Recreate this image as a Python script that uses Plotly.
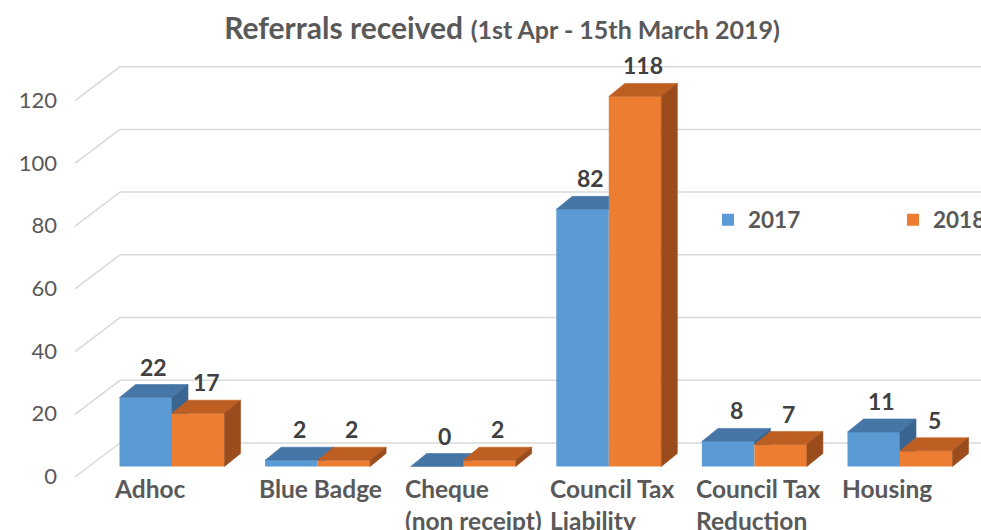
import plotly.graph_objects as go

# ---------------- data ----------------
categories = ["Adhoc", "Blue Badge", "Cheque<br>(non receipt)", "Council Tax<br>Liability",
              "Council Tax<br>Reduction", "Housing"]
series_names = ["2017", "2018"]
values_2017 = [22, 2, 0, 82, 8, 11]
values_2018 = [17, 2, 2, 118, 7, 5]
y_ticks = [0, 20, 40, 60, 80, 100, 120]

# ---------------- geometry / style ----------------
W_PX, H_PX = 981, 530
X_DOM_LEFT_PX = 58
CAT_STEP_PX = 145.6
CAT0_PX = 172.0
Y_UNIT_PX = 3.136
Y0_PX = 466.5
BAR_W = 52.5 / CAT_STEP_PX
DDX = 16 / CAT_STEP_PX
DDY = 13 / Y_UNIT_PX
LABEL_PLANE_DY = 10.5 / Y_UNIT_PX
BACK_DY = 23.5 / Y_UNIT_PX
DIAG_X0 = (75 - CAT0_PX) / CAT_STEP_PX
DIAG_X1 = (120 - CAT0_PX) / CAT_STEP_PX

x_range = [(X_DOM_LEFT_PX - CAT0_PX) / CAT_STEP_PX, (W_PX - CAT0_PX) / CAT_STEP_PX]
y_range = [-(H_PX - Y0_PX) / Y_UNIT_PX, Y0_PX / Y_UNIT_PX]

BLUE, BLUE_TOP, BLUE_SIDE = "#5B9BD5", "#4676A6", "#3A6591"
ORANGE, ORANGE_TOP, ORANGE_SIDE = "#ED7D31", "#BD5E22", "#9A4C1C"
FONT = "Lato"
TXT = "#595959"
VAL = "#404040"

idx = list(range(len(categories)))


def clip(poly, f):
    out = []
    n = len(poly)
    for k in range(n):
        a, b = poly[k], poly[(k + 1) % n]
        fa, fb = f(a), f(b)
        if fa >= 0:
            out.append(a)
        if (fa >= 0) != (fb >= 0):
            t = fa / (fa - fb)
            out.append((a[0] + t * (b[0] - a[0]), a[1] + t * (b[1] - a[1])))
    return out


def top_poly(x0, x1, v):
    return [(x0, v), (x1, v), (x1 + DDX, v + DDY), (x0 + DDX, v + DDY)]


def side_poly(x1, v):
    return [(x1, 0), (x1 + DDX, DDY), (x1 + DDX, v + DDY), (x1, v)]


def add_polys(polys, color):
    xs, ys = [], []
    for p in polys:
        if len(p) < 3:
            continue
        xs += [pt[0] for pt in p] + [p[0][0], None]
        ys += [pt[1] for pt in p] + [p[0][1], None]
    return go.Scatter(x=xs, y=ys, mode="lines", fill="toself", fillcolor=color,
                      line=dict(color=color, width=0.6), hoverinfo="skip",
                      showlegend=False)


fig = go.Figure()

fig.add_trace(go.Bar(x=idx, y=values_2017, name=series_names[0], offset=-BAR_W, width=BAR_W,
                     marker=dict(color=BLUE, line=dict(width=0)), hoverinfo="skip"))
fig.add_trace(go.Bar(x=idx, y=values_2018, name=series_names[1], offset=0, width=BAR_W,
                     marker=dict(color=ORANGE, line=dict(width=0)), hoverinfo="skip"))

blue_tops, blue_sides, or_tops, or_sides = [], [], [], []
for i, vb, vo in zip(idx, values_2017, values_2018):
    x0, x1, x2 = i - BAR_W, i, i + BAR_W
    tp = top_poly(x0, x1, vb)
    left = clip(tp, lambda p: x1 - p[0])
    right = clip(clip(tp, lambda p: p[0] - x1), lambda p: p[1] - vo)
    blue_tops += [left, right]
    blue_sides.append(clip(side_poly(x1, vb), lambda p: p[1] - vo))
    or_tops.append(top_poly(x1, x2, vo))
    or_sides.append(side_poly(x2, vo))

fig.add_trace(add_polys(blue_tops, BLUE_TOP))
fig.add_trace(add_polys(blue_sides, BLUE_SIDE))
fig.add_trace(add_polys(or_tops, ORANGE_TOP))
fig.add_trace(add_polys(or_sides, ORANGE_SIDE))

# gridlines (back wall + floor diagonals)
shapes = []
for v in y_ticks:
    shapes.append(dict(type="line", xref="x", yref="y", layer="below",
                       x0=DIAG_X0, y0=v - LABEL_PLANE_DY, x1=DIAG_X1, y1=v + BACK_DY,
                       line=dict(color="#D9D9D9", width=1.5)))
    shapes.append(dict(type="line", xref="x", yref="y", layer="below",
                       x0=DIAG_X1, y0=v + BACK_DY, x1=x_range[1] + 1, y1=v + BACK_DY,
                       line=dict(color="#D9D9D9", width=1.5)))

annotations = []
for vals, off in ((values_2017, -BAR_W / 2), (values_2018, BAR_W / 2)):
    for i, v in zip(idx, vals):
        annotations.append(dict(x=i + off + DDX / 2, y=v + DDY, xref="x", yref="y",
                                text=f"<b>{v}</b>", showarrow=False, yanchor="bottom",
                                yshift=2, font=dict(family=FONT, size=23, color=VAL)))
for i, c in zip(idx, categories):
    annotations.append(dict(x=i - BAR_W, y=0, xref="x", yref="y", text=f"<b>{c}</b>",
                            showarrow=False, xanchor="left", yanchor="top", align="left",
                            xshift=-8, yshift=-5,
                            font=dict(family=FONT, size=24.5, color=TXT)))

fig.update_layout(
    width=W_PX, height=H_PX,
    margin=dict(l=0, r=0, t=0, b=0, autoexpand=False),
    paper_bgcolor="white", plot_bgcolor="white",
    barmode="overlay",
    shapes=shapes, annotations=annotations,
    title=dict(text="<b>Referrals received</b> <b><span style='font-size:25px'>(1st Apr - 15th March 2019)</span></b>",
               x=502 / W_PX, xanchor="center", y=1 - 28 / H_PX, yanchor="middle",
               font=dict(family=FONT, size=30, color=TXT)),
    xaxis=dict(range=x_range, domain=[X_DOM_LEFT_PX / W_PX, 1], showgrid=False,
               zeroline=False, showline=False, showticklabels=False, ticks="",
               automargin=False),
    yaxis=dict(range=y_range, tickvals=y_ticks, showgrid=False, zeroline=False,
               showline=False, ticks="", ticklabelshift=10, automargin=False,
               tickfont=dict(family=FONT, size=22, color=TXT)),
    legend=dict(orientation="h", x=708 / W_PX, xanchor="left", y=1 - 220 / H_PX,
                yanchor="middle", entrywidth=140, entrywidthmode="pixels",
                font=dict(family=FONT, size=22.5, color=TXT, weight="bold"),
                bgcolor="rgba(0,0,0,0)"),
)

fig.write_html("out.html")
